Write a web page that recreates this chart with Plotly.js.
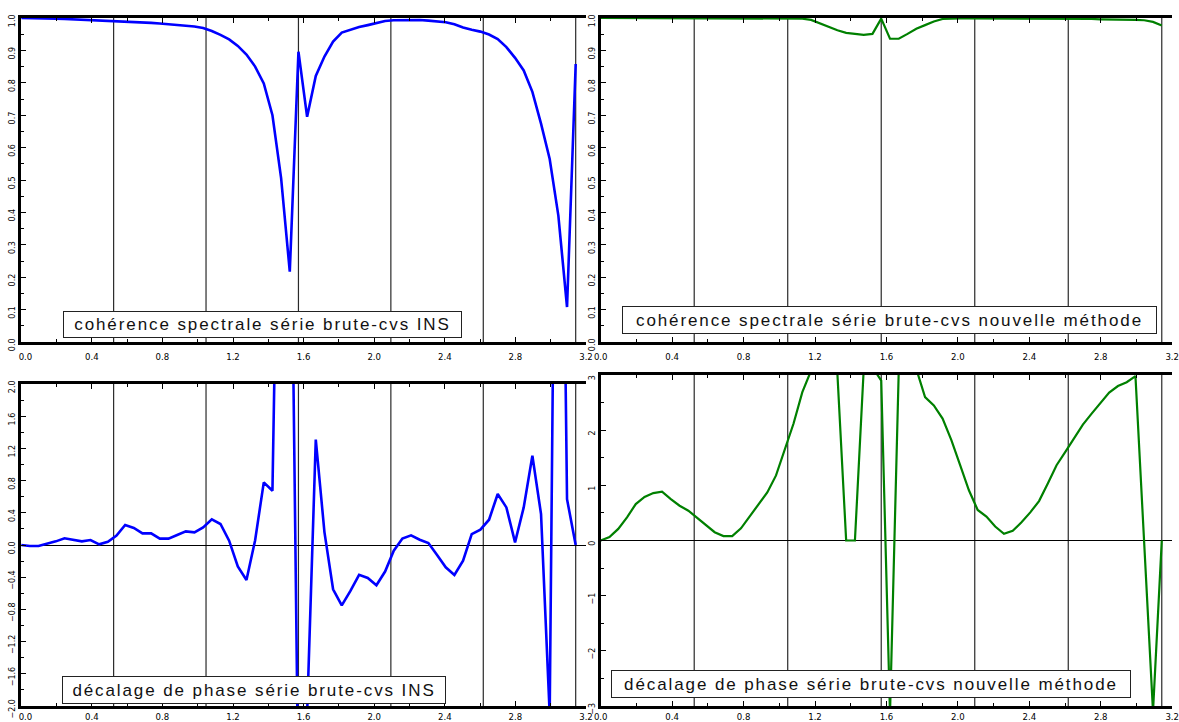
<!DOCTYPE html>
<html><head><meta charset="utf-8">
<script src="https://cdn.plot.ly/plotly-3.0.1.min.js"></script>
<style>html,body{margin:0;padding:0;background:#fff}#chart{width:1179px;height:722px}</style>
</head><body><div id="chart"></div>
<script>
// frequencies k*pi/64, k = 0..64
const freq = [0,0.0491,0.0982,0.1473,0.1963,0.2454,0.2945,0.3436,0.3927,0.4418,
 0.4909,0.5400,0.5890,0.6381,0.6872,0.7363,0.7854,0.8345,0.8836,0.9327,
 0.9817,1.0308,1.0799,1.1290,1.1781,1.2272,1.2763,1.3254,1.3744,1.4235,
 1.4726,1.5217,1.5708,1.6199,1.6690,1.7181,1.7671,1.8162,1.8653,1.9144,
 1.9635,2.0126,2.0617,2.1108,2.1598,2.2089,2.2580,2.3071,2.3562,2.4053,
 2.4544,2.5035,2.5525,2.6016,2.6507,2.6998,2.7489,2.7980,2.8471,2.8962,
 2.9452,2.9943,3.0434,3.0925,3.1416];

// coherence, raw series vs INS seasonal adjustment
const cohINS = [1.000,1.000,0.999,0.999,0.998,0.997,0.996,0.995,0.994,0.993,
 0.992,0.991,0.990,0.988,0.987,0.985,0.983,0.981,0.979,0.976,
 0.974,0.969,0.960,0.948,0.934,0.914,0.887,0.850,0.798,0.700,
 0.506,0.217,0.896,0.695,0.821,0.881,0.927,0.955,0.964,0.972,
 0.978,0.985,0.991,0.993,0.994,0.994,0.994,0.992,0.990,0.987,
 0.981,0.971,0.964,0.958,0.949,0.935,0.910,0.877,0.838,0.772,
 0.674,0.565,0.390,0.108,0.858];

// coherence, raw series vs new method
const cohNew = [1.000,1.000,1.000,1.000,1.000,1.000,1.000,0.999,0.999,0.999,
 0.999,0.999,0.999,0.999,0.999,0.999,0.999,0.999,0.999,0.999,
 0.999,0.999,0.999,0.998,0.994,0.983,0.972,0.962,0.954,0.950,
 0.948,0.951,0.998,0.936,0.936,0.951,0.967,0.978,0.989,0.997,
 0.999,0.999,0.999,0.999,0.999,0.999,0.999,0.999,0.999,0.999,
 0.998,0.998,0.998,0.998,0.997,0.997,0.997,0.996,0.996,0.995,
 0.995,0.994,0.993,0.988,0.977];

// phase shift, raw series vs INS
const phaseINS = [0.000,-0.012,-0.012,0.012,0.045,0.083,0.066,0.045,0.062,0.008,
 0.041,0.116,0.248,0.211,0.145,0.145,0.079,0.079,0.124,0.169,
 0.157,0.219,0.318,0.261,0.054,-0.265,-0.434,0.060,0.778,0.674,
 7.0,5.9,-3.2,-2.1,1.31,0.16,-0.55,-0.75,-0.57,-0.37,
 -0.41,-0.50,-0.33,-0.07,0.08,0.12,0.066,0.025,-0.124,-0.277,
 -0.372,-0.194,0.136,0.19,0.314,0.633,0.467,0.033,0.467,1.108,
 0.385,-2.1,9.5,0.57,0.0];

// phase shift, raw series vs new method
const phaseNew = [0.0,0.061,0.21,0.42,0.66,0.79,0.86,0.885,0.75,0.63,
 0.54,0.41,0.27,0.15,0.08,0.08,0.22,0.433,0.643,0.872,
 1.18,1.64,2.12,2.69,3.08,3.12,3.13,3.02,0.0,0.0,
 3.1,3.14,2.9,-3.14,3.1,3.12,3.11,2.60,2.45,2.21,
 1.82,1.365,0.91,0.553,0.433,0.253,0.12,0.174,0.33,0.51,
 0.715,1.034,1.365,1.606,1.847,2.10,2.30,2.49,2.68,2.80,
 2.87,2.98,-0.05,-3.1,0.0];

const xTickVals = [0,0.4,0.8,1.2,1.6,2.0,2.4,2.8,3.2];
const xTickTextLeft = ['\u2002\u20020.0','0.4','0.8','1.2','1.6','2.0','2.4','2.8','3.2'];
const xTickTextRight = ['0.0','0.4','0.8','1.2','1.6','2.0','2.4','2.8','3.2'];

const panelTitles = [
  "cohérence spectrale série brute-cvs INS",
  "cohérence spectrale série brute-cvs nouvelle méthode",
  "décalage de phase série brute-cvs INS",
  "décalage de phase série brute-cvs nouvelle méthode"
];

const W = 1179, H = 722;
const px = v => v / W;
const py = v => 1 - v / H;

// panel pixel boxes [x0, x1, yTop, yBottom]
const boxes = [
  [21.2, 586, 18, 342],
  [600.7, 1172.2, 18, 342],
  [21.2, 586, 384, 706],
  [600.7, 1172.2, 375, 706]
];
const yRanges = [[0,1],[0,1],[-2,2],[-3,3]];
const yDticks = [0.1, 0.1, 0.4, 1];
const yFormats = ['.1f', '.1f', '.1f', 'd'];
const colors = ['#0000ff', '#008000', '#0000ff', '#008000'];
const widths = [2.6, 2.2, 2.6, 2.2];
const series = [cohINS, cohNew, phaseINS, phaseNew];

// label boxes [cx, cy, w, h]
const labelBoxes = [
  [262.5, 324.5, 399, 27],
  [889.5, 320, 535, 28],
  [254, 689.5, 384, 28],
  [871, 683.5, 520, 28]
];

const traces = [];
const layout = {
  width: W, height: H,
  margin: {l:0, r:0, t:0, b:0},
  paper_bgcolor: '#fff', plot_bgcolor: '#fff',
  showlegend: false,
  shapes: [], annotations: []
};

for (let i = 0; i < 4; i++) {
  const sfx = i === 0 ? '' : String(i + 1);
  const [x0, x1, yt, yb] = boxes[i];
  traces.push({
    x: freq, y: series[i], type: 'scatter', mode: 'lines',
    xaxis: 'x' + sfx, yaxis: 'y' + sfx,
    line: {color: colors[i], width: widths[i]},
    hoverinfo: 'skip'
  });
  layout['xaxis' + sfx] = {
    domain: [px(x0), px(x1)], anchor: 'y' + sfx,
    range: [0, 3.2], tickmode: 'array', tickvals: xTickVals,
    ticktext: (i % 2 === 0) ? xTickTextLeft : xTickTextRight,
    ticks: 'inside', ticklen: 5, tickwidth: 1, tickcolor: '#000',
    ticklabelstandoff: i < 2 ? 4 : 0,
    showline: true, linewidth: 3, linecolor: '#000', mirror: 'allticks',
    showgrid: false, zeroline: false,
    minor: {dtick: 0.2, tick0: 0, ticks: 'inside', ticklen: 3, tickcolor: '#000', showgrid: false},
    tickfont: {family: 'Liberation Sans Narrow, Arial Narrow, DejaVu Sans Condensed, sans-serif', size: 9.5, color: '#000'},
    fixedrange: true
  };
  layout['yaxis' + sfx] = {
    domain: [py(yb), py(yt)], anchor: 'x' + sfx,
    range: yRanges[i], tick0: 0, dtick: yDticks[i], tickformat: yFormats[i],
    tickangle: -90, ticklabelshift: 4,
    ticks: 'inside', ticklen: 5, tickwidth: 1, tickcolor: '#000',
    showline: true, linewidth: 3, linecolor: '#000', mirror: false,
    showgrid: false,
    zeroline: i >= 2, zerolinecolor: '#000', zerolinewidth: 1,
    minor: {dtick: yDticks[i] / 2, ticks: 'inside', ticklen: 3, tickcolor: '#000', showgrid: false},
    tickfont: {family: 'DejaVu Sans, sans-serif', size: 8, color: '#000'},
    fixedrange: true
  };
  // thin right-hand frame with inside ticks
  layout['yaxis' + (i + 5)] = {
    overlaying: 'y' + sfx, anchor: 'x' + sfx, side: 'right',
    range: yRanges[i], tick0: 0, dtick: yDticks[i],
    showticklabels: false,
    ticks: 'inside', ticklen: 5, tickwidth: 1, tickcolor: '#333',
    showline: true, linewidth: 1.2, linecolor: '#444',
    showgrid: false, zeroline: false,
    minor: {dtick: yDticks[i] / 2, ticks: 'inside', ticklen: 3, tickcolor: '#333', showgrid: false},
    fixedrange: true
  };
  // vertical reference lines at multiples of pi/6
  for (let k = 1; k <= 6; k++) {
    layout.shapes.push({
      type: 'line', layer: 'below',
      xref: 'x' + sfx, yref: 'y' + sfx + ' domain',
      x0: k * Math.PI / 6, x1: k * Math.PI / 6, y0: 0, y1: 1,
      line: {color: '#2a2a2a', width: 1.2}
    });
  }
  const [cx, cy, bw, bh] = labelBoxes[i];
  layout.annotations.push({
    text: '<span style="letter-spacing:1.9px">' + panelTitles[i] + '</span>',
    showarrow: false,
    xref: 'paper', yref: 'paper', x: px(cx), y: py(cy),
    xanchor: 'center', yanchor: 'middle',
    width: bw - 4, height: bh - 4, align: 'center', valign: 'middle',
    bgcolor: '#fff', bordercolor: '#222', borderwidth: 1, borderpad: 1,
    font: {family: 'Liberation Sans, Arial, sans-serif', size: 17, color: '#111'}
  });
}

Plotly.newPlot('chart', traces, layout, {staticPlot: true, displayModeBar: false});
</script>
</body></html>
